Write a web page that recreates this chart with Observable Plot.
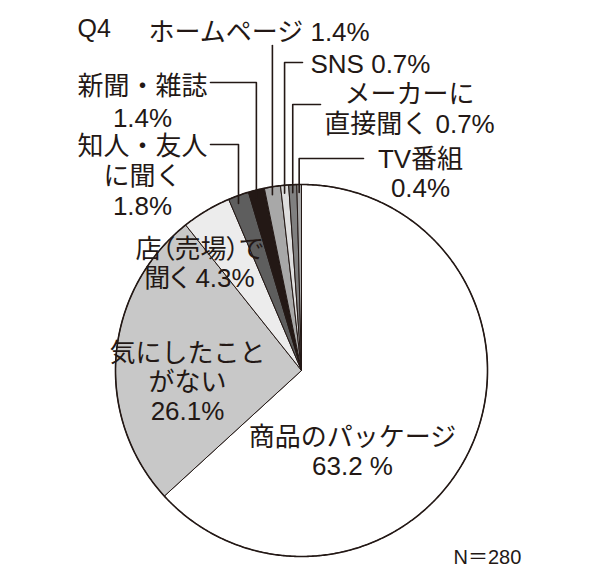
<!DOCTYPE html>
<html><head><meta charset="utf-8">
<script src="https://cdn.jsdelivr.net/npm/d3@7"></script>
<script src="https://cdn.jsdelivr.net/npm/@observablehq/plot@0.6"></script>
<style>html,body{margin:0;padding:0;background:#fff}svg{display:block}
.palt text{font-feature-settings:"palt"}</style>
</head><body><div id="chart"></div>
<script>
// ---- data ----
const categories = ["商品のパッケージ","気にしたことがない","店（売場）で聞く","知人・友人に聞く","新聞・雑誌","ホームページ","SNS","メーカーに直接聞く","TV番組"];
const values = [63.2, 26.1, 4.3, 1.8, 1.4, 1.4, 0.7, 0.7, 0.4];
const fills = ["#ffffff","#c8c8c8","#ececec","#5e5e5e","#231815","#a8a8a8","#dedede","#808080","#a8a8a8"];
const labelTexts = [
  "商品のパッケージ\n63.2 %",
  "気にしたこと\nがない\n26.1%",
  "店（売場）で\n聞く 4.3%",
  "知人・友人\nに聞く\n1.8%",
  "新聞・雑誌\n1.4%",
  "ホームページ 1.4%",
  "SNS 0.7%",
  "メーカーに\n直接聞く 0.7%",
  "TV番組\n0.4%"
];
const title = "Q4";
const note = "N＝280";

// ---- layout ----
const W = 600, H = 580, cx = 301, cy = 370, R = 186;
const ink = "#231815";
const font = "'Liberation Sans', 'Noto Sans CJK JP', sans-serif";
const FS = 26;

const arcs = d3.pie().sort(null).value(d => d)(values);
const px = (a, r) => cx + r * Math.sin(a);
const py = (a, r) => cy - r * Math.cos(a);

const sliceMarks = arcs.map((a, i) => {
  const n = Math.max(2, Math.ceil((a.endAngle - a.startAngle) / 0.005));
  const pts = [{x: cx, y: cy}];
  for (let k = 0; k <= n; k++) {
    const t = a.startAngle + (a.endAngle - a.startAngle) * k / n;
    pts.push({x: px(t, R), y: py(t, R)});
  }
  pts.push({x: cx, y: cy});
  return Plot.line(pts, {x: "x", y: "y", fill: fills[i], stroke: ink, strokeWidth: 1, strokeLinejoin: "round"});
});

const circlePts = d3.range(0, 721).map(k => {
  const t = k / 720 * 2 * Math.PI;
  return {x: px(t, R), y: py(t, R)};
});

// leader lines for small slices: [slice index, elbow y, end x]
const leaderLayout = [[3, 144, 210], [4, 82, 210], [5, 45, null], [6, 62, 302], [7, 104, 320], [8, 158, 363]];
const leaderPts = [];
leaderLayout.forEach(([i, ey, ex]) => {
  const a = arcs[i];
  const mid = (a.startAngle + a.endAngle) / 2;
  const x0 = px(mid, R);
  const y0 = py(mid, R) + 8;
  leaderPts.push({id: i, x: x0, y: y0});
  leaderPts.push({id: i, x: x0, y: ey});
  if (ex !== null) leaderPts.push({id: i, x: ex, y: ey});
});

// label placement: [slice index, x, block centre y, line height (px), anchor]
const labelLayout = [
  [0, 352, 451, 29, "middle"],
  [1, 187, 381, 29, "middle"],
  [2, 199, 263, 29, "middle"],
  [3, 142, 175, 30, "middle"],
  [4, 142, 100, 32, "middle"],
  [5, 148, 31, 29, "start"],
  [6, 310, 63, 29, "start"],
  [7, 409, 108, 30, "middle"],
  [8, 420, 173, 29, "middle"]
];
const labelMarks = labelLayout.map(([i, x, y, lh, anchor]) =>
  Plot.text([labelTexts[i]], {
    x: () => x, y: () => y, text: d => d, textAnchor: anchor, lineAnchor: "middle",
    lineHeight: lh / FS, fontSize: FS, fill: ink, fontFamily: font,
    className: i === 2 ? "palt" : undefined
  })
);

const chart = Plot.plot({
  width: W, height: H, margin: 0,
  x: {domain: [0, W], range: [0, W], axis: null},
  y: {domain: [0, H], range: [0, H], axis: null},
  style: {fontFamily: font, background: "#fff"},
  marks: [
    ...sliceMarks,
    Plot.line(circlePts, {x: "x", y: "y", stroke: ink, strokeWidth: 1.6}),
    Plot.line(leaderPts, {x: "x", y: "y", z: "id", stroke: ink, strokeWidth: 1.6}),
    ...labelMarks,
    Plot.text([title], {x: () => 77, y: () => 28, text: d => d, textAnchor: "start", fontSize: 25, fill: ink, fontFamily: font}),
    Plot.text([note], {x: () => 453, y: () => 557, text: d => d, textAnchor: "start", fontSize: 20, fill: ink, fontFamily: font})
  ]
});
document.getElementById("chart").appendChild(chart);
</script>
</body></html>
